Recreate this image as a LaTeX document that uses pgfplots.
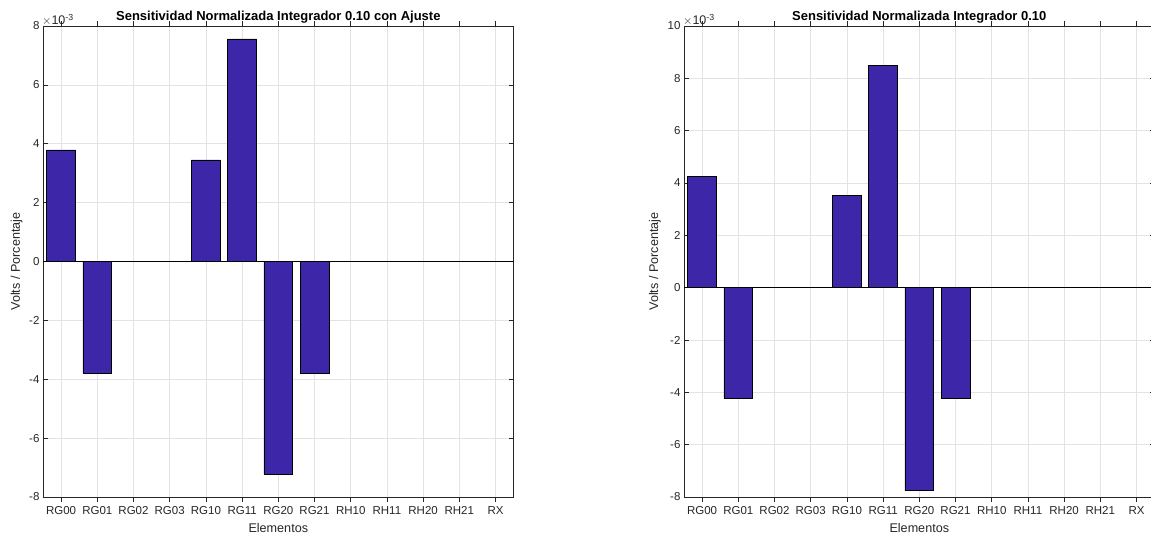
\documentclass[border=0pt]{standalone}
\usepackage{pgfplots}
\pgfplotsset{compat=1.18}
\usepackage{fontspec}
\setmainfont{Liberation Sans}
\definecolor{parula1}{rgb}{0.2422,0.1504,0.6603}
\definecolor{axgray}{rgb}{0.15,0.15,0.15}
\pgfplotsset{
  mystyle/.style={
    scale only axis, width=470.6pt, height=471pt,
    xmin=0.5, xmax=13.5,
    xtick={1,...,13},
    xticklabels={RG00,RG01,RG02,RG03,RG10,RG11,RG20,RG21,RH10,RH11,RH20,RH21,RX},
    ytick distance=0.002,
    scaled y ticks=base 10:3,
    ytick scale label code/.code={$\times$10\textsuperscript{##1}},
    every y tick scale label/.style={at={(rel axis cs:0,1)}, anchor=south west, xshift=-1pt, yshift=0pt, inner sep=0pt, font=\fontsize{12.5}{13}\selectfont, color=axgray},
    /pgf/number format/assume math mode=true,
    /pgf/number format/fixed,
    grid=major,
    major grid style={color=black!11, line width=0.5pt},
    axis line style={color=axgray, line width=0.6pt},
    tick align=inside,
    major tick length=5pt,
    tick style={color=axgray, line width=0.6pt},
    ticklabel style={font=\fontsize{11.5}{13}\selectfont, color=axgray},
    xticklabel style={yshift=-1pt},
    xlabel={Elementos},
    ylabel={Volts / Porcentaje},
    label style={font=\fontsize{12.6}{14}\selectfont, color=axgray},
    xlabel style={yshift=-2pt},
    ylabel style={yshift=0pt},
    title style={font=\bfseries\fontsize{13}{15}\selectfont, yshift=-7pt},
    ybar, bar width=0.8, bar shift=0pt,
  }
}
\begin{document}
\begin{tikzpicture}
\useasboundingbox (0,0) rectangle (1151pt,537pt);
\begin{axis}[mystyle, at={(43pt,40pt)}, anchor=south west,
  ymin=-0.008, ymax=0.008,
  title={Sensitividad Normalizada Integrador 0.10 con Ajuste}]
\addplot[fill=parula1, draw=black, line width=0.6pt] coordinates {
(1,0.00379) (2,-0.00379) (3,0.0) (4,0.0) (5,0.00345) (6,0.00756)
(7,-0.00722) (8,-0.00379) (9,0.0) (10,0.00001) (11,0.0) (12,0.0) (13,0.00001)};
\addplot[ybar=false, sharp plot, black, line width=0.8pt, mark=none] coordinates {(0.5,0) (13.5,0)};
\end{axis}
\begin{axis}[mystyle, at={(684pt,40pt)}, anchor=south west,
  ymin=-0.008, ymax=0.010,
  title={Sensitividad Normalizada Integrador 0.10}]
\addplot[fill=parula1, draw=black, line width=0.6pt] coordinates {
(1,0.00424) (2,-0.00424) (3,0.0) (4,0.0) (5,0.00352) (6,0.00848)
(7,-0.00776) (8,-0.00424) (9,0.0) (10,0.00001) (11,0.0) (12,0.0) (13,0.00001)};
\addplot[ybar=false, sharp plot, black, line width=0.8pt, mark=none] coordinates {(0.5,0) (13.5,0)};
\end{axis}
\end{tikzpicture}
\end{document}
